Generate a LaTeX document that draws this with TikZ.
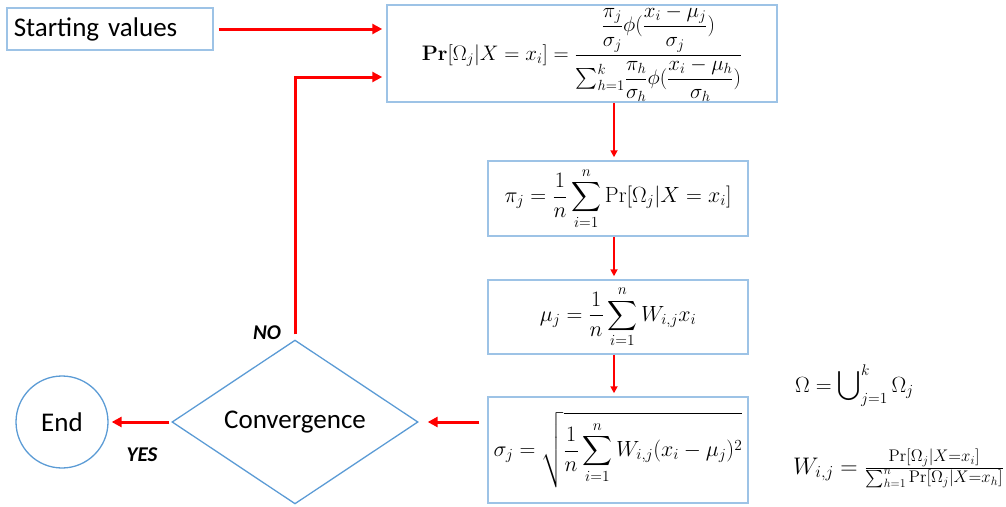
\RequirePackage{fix-cm}
\documentclass[tikz,border=0pt]{standalone}
\usepackage{amsmath}
\usepackage[no-math]{fontspec}
\setmainfont{Carlito}
\usetikzlibrary{arrows.meta,shapes.geometric}
\definecolor{boxblue}{RGB}{157,195,230}
\definecolor{shapeblue}{RGB}{91,155,213}
\definecolor{arrowred}{RGB}{255,0,0}
\begin{document}
\begin{tikzpicture}[x=1pt,y=-1pt,
  fbox/.style={draw=boxblue, line width=1.5pt, inner sep=0pt, font=\fontsize{22}{26}\selectfont},
  ra/.style={draw=arrowred, line width=3pt, -{Triangle[length=10pt,width=10pt]}},
  rv/.style={draw=arrowred, line width=2pt, -{Triangle[length=7pt,width=7pt]}},
  lbl/.style={font=\fontsize{27}{32}\selectfont},
  yn/.style={font=\fontsize{21}{25}\selectfont\bfseries\itshape},
  side/.style={inner sep=0pt, font=\fontsize{22}{26}\selectfont}]
\useasboundingbox (0,0) rectangle (1006,506);

% boxes
\node[draw=boxblue, line width=1.5pt, lbl, anchor=west, text width=192pt, inner xsep=7pt, inner ysep=0pt, minimum height=42pt] (start) at (6,29) {Starting values};

\node[fbox, font=\fontsize{21}{25}\selectfont, minimum width=390pt, minimum height=97pt] (upd) at (582,53.5)
  {$\mathbf{Pr}[\Omega_j|X=x_i] = \dfrac{\dfrac{\pi_j}{\sigma_j}\phi(\dfrac{x_i-\mu_j}{\sigma_j})}{{\textstyle\sum_{h=1}^{k}}\dfrac{\pi_h}{\sigma_h}\phi(\dfrac{x_i-\mu_h}{\sigma_h})}$};

\node[fbox, minimum width=260pt, minimum height=75pt] (pi) at (618,198.5)
  {$\displaystyle \pi_j = \frac{1}{n}\sum_{i=1}^{n}\mathrm{Pr}[\Omega_j|X=x_i]$};

\node[fbox, minimum width=260pt, minimum height=74pt] (mu) at (618,317)
  {$\displaystyle \mu_j = \frac{1}{n}\sum_{i=1}^{n}W_{i,j}x_i$};

\node[fbox, minimum width=260pt, minimum height=106pt] (sigma) at (618,450)
  {$\displaystyle \sigma_j = \sqrt{\frac{1}{n}\sum_{i=1}^{n}W_{i,j}(x_i-\mu_j)^2}$};

\node[draw=shapeblue, line width=1.3pt, diamond, minimum width=246pt, minimum height=148pt, inner sep=0pt, lbl] (conv) at (295,422) {Convergence};

\node[draw=shapeblue, line width=1.3pt, circle, minimum size=92pt, inner sep=0pt, lbl] (end) at (62,422) {End};

% labels
\node[yn] (no) at (267,333) {NO};
\node[yn] (yes) at (142,455) {YES};

% side formulas
\node[side, anchor=base west] (omega) at (795,392)
  {$\Omega = \displaystyle\bigcup\nolimits_{j=1}^{k}\Omega_j$};
\node[side, font=\fontsize{24}{28}\selectfont, anchor=base west] (wdef) at (793,474)
  {$W_{i,j} = \frac{\mathrm{Pr}[\Omega_j|X=x_i]}{\sum_{h=1}^{n}\mathrm{Pr}[\Omega_j|X=x_h]}$};

% connectors
\draw[ra, shorten <=5pt, shorten >=4pt] (start.east) -- (start.east -| upd.west);
\draw[ra, shorten >=4pt] ([yshift=5pt]conv.north) |- ([yshift=-23.5pt]upd.west);
\draw[rv, shorten >=3pt] ([xshift=-4pt]upd.south -| pi.north) -- ([xshift=-4pt]pi.north);
\draw[rv, shorten >=3pt] ([xshift=-4pt]pi.south) -- ([xshift=-4pt]mu.north);
\draw[rv, shorten >=3pt] ([xshift=-4pt]mu.south) -- ([xshift=-4pt]sigma.north);
\draw[ra, shorten <=8pt, shorten >=9pt] (sigma.west |- conv.east) -- (conv.east);
\draw[ra, shorten <=2pt, shorten >=3pt] (conv.west) -- (end.east);
\end{tikzpicture}
\end{document}
